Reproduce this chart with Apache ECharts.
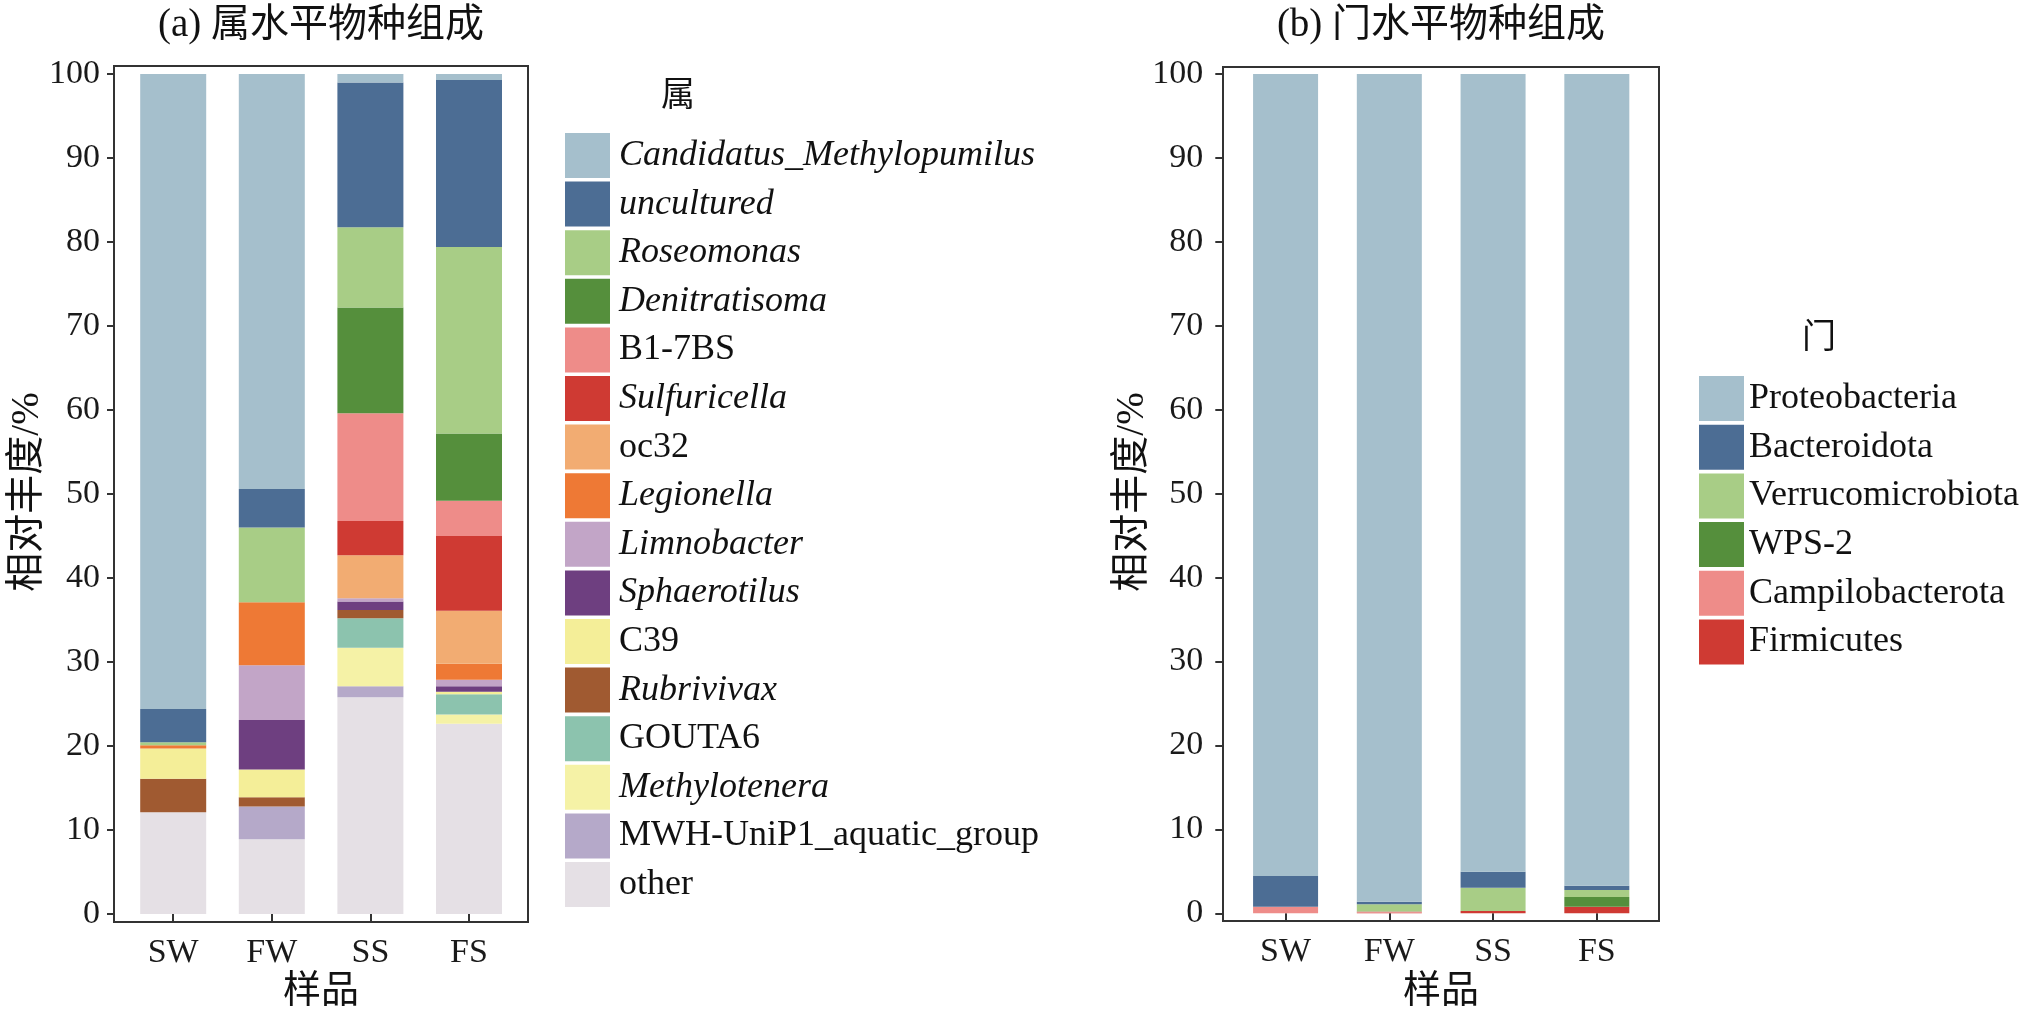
<!DOCTYPE html>
<html>
<head>
<meta charset="utf-8">
<script src="https://cdn.jsdelivr.net/npm/echarts@6/dist/echarts.min.js"></script>
<style>
html, body { margin: 0; padding: 0; background: #fff; }
#box { width: 2029px; height: 1013px; }
</style>
</head>
<body>
<div id="box"></div>
<script>
var samples = ['SW', 'FW', 'SS', 'FS'];

// 属 (genus) level, values for SW, FW, SS, FS  (%)
var candidatus    = [75.6, 49.4, 1.0, 0.7];
var uncultured    = [3.95, 4.6, 17.25, 19.9];
var roseomonas    = [0.35, 8.9, 9.55, 22.2];
var denitratisoma = [0, 0, 12.6, 8.0];
var b17bs         = [0, 0, 12.8, 4.2];
var sulfuricella  = [0, 0, 4.1, 8.9];
var oc32          = [0, 0, 5.1, 6.3];
var legionella    = [0.4, 7.5, 0, 1.9];
var limnobacter   = [0, 6.5, 0.4, 0.8];
var sphaerotilus  = [0, 5.9, 1.0, 0.65];
var c39           = [3.6, 3.3, 0, 0.3];
var rubrivivax    = [4.0, 1.1, 1.0, 0];
var gouta6        = [0, 0, 3.5, 2.4];
var methylotenera = [0, 0, 4.6, 1.1];
var mwh           = [0, 3.9, 1.3, 0];
var other         = [12.1, 8.9, 25.8, 22.65];

// 门 (phylum) level
var proteobacteria   = [95.56, 98.62, 95.04, 96.71];
var bacteroidota     = [3.65, 0.31, 1.91, 0.52];
var verrucomicrobiota = [0, 0.82, 2.78, 0.83];
var wps2             = [0, 0.05, 0, 1.15];
var campilobacterota = [0.79, 0.1, 0, 0];
var firmicutes       = [0, 0.1, 0.27, 0.79];

// legend order (top to bottom) = stack order (top to bottom)
var genusList = [
    ['Candidatus_Methylopumilus', candidatus, '#a5bfcc', true],
    ['uncultured', uncultured, '#4c6d94', true],
    ['Roseomonas', roseomonas, '#a8cd86', true],
    ['Denitratisoma', denitratisoma, '#558f3c', true],
    ['B1-7BS', b17bs, '#ee8c89', false],
    ['Sulfuricella', sulfuricella, '#cf3a33', true],
    ['oc32', oc32, '#f2ac72', false],
    ['Legionella', legionella, '#ee7935', true],
    ['Limnobacter', limnobacter, '#c2a5c7', true],
    ['Sphaerotilus', sphaerotilus, '#6e3f80', true],
    ['C39', c39, '#f4ee98', false],
    ['Rubrivivax', rubrivivax, '#a05a31', true],
    ['GOUTA6', gouta6, '#8cc3ae', false],
    ['Methylotenera', methylotenera, '#f5f2a6', true],
    ['MWH-UniP1_aquatic_group', mwh, '#b5a9c9', false],
    ['other', other, '#e5e0e5', false]
];
var phylumList = [
    ['Proteobacteria', proteobacteria, '#a5bfcc'],
    ['Bacteroidota', bacteroidota, '#4c6d94'],
    ['Verrucomicrobiota', verrucomicrobiota, '#a8cd86'],
    ['WPS-2', wps2, '#558f3c'],
    ['Campilobacterota', campilobacterota, '#ee8c89'],
    ['Firmicutes', firmicutes, '#cf3a33']
];

var serif = '"Liberation Serif", "Times New Roman", "Noto Sans CJK SC"';
var italicSet = {};
genusList.forEach(function (g) { italicSet[g[0]] = g[3]; });

var series = [];
// stack bottom-up: reverse of legend order
for (var i = genusList.length - 1; i >= 0; i--) {
    series.push({
        name: genusList[i][0],
        type: 'bar',
        stack: 'genus',
        xAxisIndex: 0,
        yAxisIndex: 0,
        barWidth: 66,
        itemStyle: { color: genusList[i][2] },
        data: genusList[i][1]
    });
}
for (var j = phylumList.length - 1; j >= 0; j--) {
    series.push({
        name: phylumList[j][0],
        type: 'bar',
        stack: 'phylum',
        xAxisIndex: 1,
        yAxisIndex: 1,
        barWidth: 65,
        itemStyle: { color: phylumList[j][2] },
        data: phylumList[j][1]
    });
}

function yAxisCfg(idx, off, margin, tickLen) {
    return {
        type: 'value',
        gridIndex: idx,
        min: 0,
        max: 100,
        interval: 10,
        offset: off,
        axisLine: { show: false },
        axisTick: { show: true, length: tickLen, lineStyle: { color: '#333', width: 2 } },
        axisLabel: { margin: margin, fontSize: 34, fontFamily: serif, color: '#1a1a1a' },
        splitLine: { show: false }
    };
}
function xAxisCfg(idx) {
    return {
        type: 'category',
        gridIndex: idx,
        data: samples,
        offset: 8,
        axisLine: { show: false },
        axisTick: { show: true, alignWithLabel: true, length: 8, lineStyle: { color: '#333', width: 2 } },
        axisLabel: { margin: 14, fontSize: 34, fontFamily: serif, color: '#1a1a1a' }
    };
}

function txt(s, x, y, size, rot) {
    return {
        type: 'text',
        x: x,
        y: y,
        rotation: rot || 0,
        style: {
            text: s,
            fill: '#111',
            font: size + 'px ' + serif,
            textAlign: 'center',
            textVerticalAlign: 'middle',
            align: 'center',
            verticalAlign: 'middle'
        }
    };
}

var option = {
    backgroundColor: '#fff',
    animation: false,
    grid: [
        { left: 123.9, top: 74, width: 394.4, height: 840 },
        { left: 1233.7, top: 74, width: 415, height: 839.3 }
    ],
    xAxis: [xAxisCfg(0), xAxisCfg(1)],
    yAxis: [yAxisCfg(0, 9.9, 14, 7), yAxisCfg(1, 10.4, 20, 8)],
    legend: [{
        orient: 'vertical',
        left: 565,
        top: 133,
        padding: 0,
        itemWidth: 45,
        itemHeight: 45,
        itemGap: 3.6,
        icon: 'rect',
        selectedMode: false,
        data: genusList.map(function (g) { return g[0]; }),
        formatter: function (name) {
            return (italicSet[name] ? '{i|' : '{n|') + name + '}';
        },
        textStyle: {
            padding: [0, 0, 0, 4],
            rich: {
                i: { fontSize: 36, fontStyle: 'italic', fontFamily: serif, color: '#111' },
                n: { fontSize: 36, fontFamily: serif, color: '#111' }
            }
        }
    }, {
        orient: 'vertical',
        left: 1699,
        top: 376,
        padding: 0,
        itemWidth: 45,
        itemHeight: 45,
        itemGap: 3.7,
        icon: 'rect',
        selectedMode: false,
        data: phylumList.map(function (p) { return p[0]; }),
        textStyle: { fontSize: 36, fontFamily: serif, color: '#111' }
    }],
    graphic: [
        { type: 'rect', shape: { x: 114, y: 66, width: 414, height: 856 },
          style: { fill: 'none', stroke: '#333', lineWidth: 2 } },
        { type: 'rect', shape: { x: 1223, y: 67, width: 436, height: 854 },
          style: { fill: 'none', stroke: '#333', lineWidth: 2 } },
        txt('(a) 属水平物种组成', 321, 26, 39),
        txt('(b) 门水平物种组成', 1441, 26, 39),
        txt('相对丰度/%', 28, 492, 39, Math.PI / 2),
        txt('相对丰度/%', 1133, 492, 39, Math.PI / 2),
        txt('样品', 321, 992, 38),
        txt('样品', 1441, 992, 38),
        txt('属', 678, 97, 34),
        txt('门', 1819, 339, 34)
    ],
    series: series
};

var myChart = echarts.init(document.getElementById('box'));
myChart.setOption(option);
</script>
</body>
</html>
